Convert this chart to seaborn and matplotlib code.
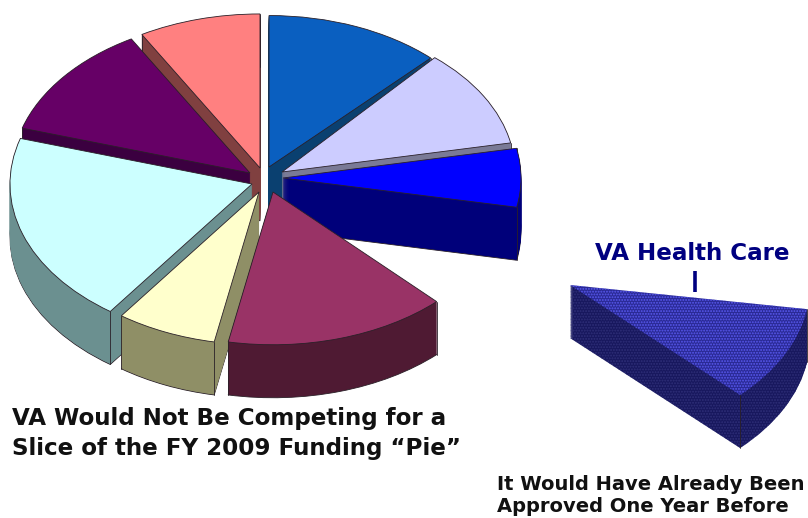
import math

import matplotlib
matplotlib.use("Agg")
import matplotlib.pyplot as plt
from matplotlib.patches import Wedge
import seaborn as sns

# Shares of the FY 2009 funding pie, in percent, clockwise from twelve o'clock
slice_names = ["A", "B", "C", "VA Health Care", "D", "E", "F", "G", "H"]
slice_shares = [12.2, 9.7, 6.1, 9.7, 15.3, 6.9, 19.7, 12.0, 8.3]

top_colors = ["#0a5fc0", "#ccccff", "#0000ff", "#2a2a96", "#993366",
              "#ffffcc", "#ccffff", "#660066", "#ff8080"]
wall_colors = ["#0a4070", "#7a7a96", "#00007a", "#18185e", "#4f1a33",
               "#8f8f66", "#6b9090", "#3b0040", "#804040"]

# Pixel position of each slice tip after it is pulled out of the pie
tips_x = [269, 282, 283, 570, 273, 259, 252, 250, 260]
tips_y = [167, 172, 178, 285, 192, 192, 184, 173, 168]
radii = [233, 233, 238, 240, 235, 235, 242, 238, 237]

# Perspective skew: degrees a slice's leading and trailing edges are rotated by
lead_skew = [0, 3, 0, 2, 0, 0, 0, 0, 0]
trail_skew = [0, 0, 0, 1, 0, 0, 0, 0, 0]

# Back-to-front painting order of the slices left in the pie, then the lifted one
paint_order = ["H", "A", "G", "B", "C", "F", "E", "D", "VA Health Care"]

WIDTH, HEIGHT = 808, 518
TILT = 0.65
DEPTH = 53


def ypos(pixel_row):
    """Convert a pixel row to the unsquashed vertical data scale."""
    return (HEIGHT - pixel_row) / TILT


sns.set_theme(style="white")
plt.rcParams["font.family"] = ["DejaVu Sans"]
plt.rcParams["hatch.linewidth"] = 0.9

fig = plt.figure(figsize=(WIDTH / 100, HEIGHT / 100), dpi=100)
ax = fig.add_axes([0, 0, 1, 1])

total = sum(slice_shares)
starts = []
angle = 90.0
for share in slice_shares:
    starts.append(angle)
    angle -= share / total * 360

EDGE = "#2a2028"

for i, name in enumerate(slice_names):
    rank = paint_order.index(name)
    span = slice_shares[i] / total * 360 + lead_skew[i] - trail_skew[i]
    fraction = span / 360
    center = (tips_x[i], ypos(tips_y[i]))
    lifted = name == "VA Health Care"
    wedges, _ = ax.pie(
        [fraction, 1 - fraction],
        startangle=starts[i] + lead_skew[i],
        counterclock=False,
        center=center,
        radius=radii[i],
        colors=[top_colors[i], "none"],
        wedgeprops={"linewidth": 0.6, "edgecolor": EDGE},
        normalize=True,
    )
    top = wedges[0]
    wedges[1].remove()
    top.set_zorder(rank * 2 + 1.5)
    if lifted:
        top.set_edgecolor("#5a5af0")
        top.set_hatch("......")
        top.set_linewidth(0)

    # The slice thickness is built from stacked copies sliding down the page
    for step in range(DEPTH, 0, -1):
        wall = Wedge(
            (center[0], center[1] - step / TILT),
            radii[i],
            top.theta1,
            top.theta2,
            facecolor=wall_colors[i],
            edgecolor=EDGE if step == DEPTH else wall_colors[i],
            linewidth=0.6 if step == DEPTH else 0.3,
            zorder=rank * 2 + 1,
        )
        if lifted:
            wall.set_edgecolor("#34347e")
            wall.set_hatch("......")
            wall.set_linewidth(0)
        ax.add_patch(wall)

    # Vertical arrises where the cut faces meet the curved wall
    for theta in (top.theta1, top.theta2):
        corner_x = center[0] + radii[i] * math.cos(math.radians(theta))
        corner_y = center[1] + radii[i] * math.sin(math.radians(theta))
        ax.plot([corner_x, corner_x], [corner_y, corner_y - DEPTH / TILT],
                color=EDGE, lw=0.6, zorder=rank * 2 + 1.2)

ax.plot([695, 695], [ypos(271), ypos(292)], color="#000080", lw=2.6,
        solid_capstyle="butt", zorder=30)

ax.set_aspect("auto")
ax.set_xlim(0, WIDTH)
ax.set_ylim(0, HEIGHT / TILT)
ax.axis("off")

ax.text(12, ypos(419), "VA Would Not Be Competing for a", fontsize=16.6,
        fontweight="bold", color="#111111", va="center", ha="left")
ax.text(12, ypos(449), "Slice of the FY 2009 Funding “Pie”", fontsize=16.6,
        fontweight="bold", color="#111111", va="center", ha="left")
ax.text(692, ypos(253), "VA Health Care", fontsize=16.6, fontweight="bold",
        color="#000080", va="center", ha="center")
ax.text(497, ypos(485), "It Would Have Already Been", fontsize=14,
        fontweight="bold", color="#111111", va="center", ha="left")
ax.text(497, ypos(507), "Approved One Year Before", fontsize=14,
        fontweight="bold", color="#111111", va="center", ha="left")

fig.savefig("out.png", dpi=100, facecolor="white")
